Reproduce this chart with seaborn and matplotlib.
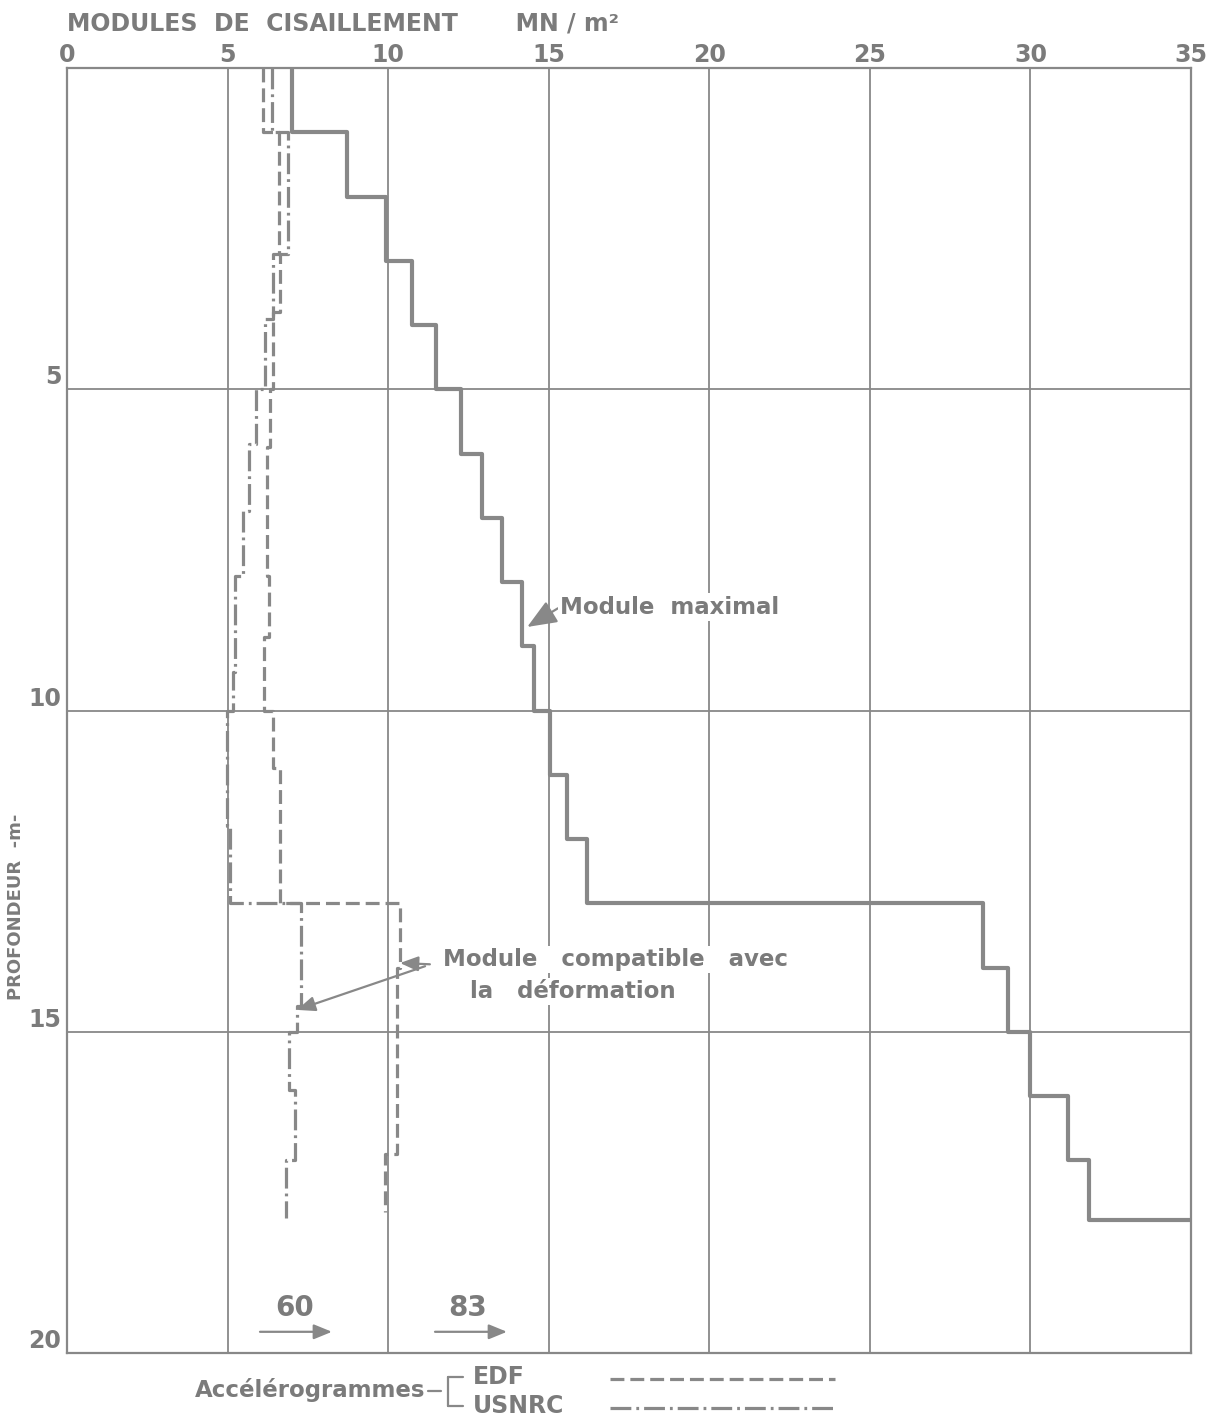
import numpy as np
import pandas as pd
import matplotlib
matplotlib.use("Agg")
import matplotlib.pyplot as plt
import seaborn as sns
from matplotlib.lines import Line2D

sns.set_style("white")
plt.rcParams['font.family'] = ['DejaVu Sans']
plt.rcParams['font.weight'] = 'bold'
plt.rcParams['axes.labelweight'] = 'bold'
plt.rcParams['lines.scale_dashes'] = False

GREY = '#888888'
TXT = '#7b7b7b'
W, H = 1214, 1417

# layer boundaries (depth, m) and shear modulus in each layer (MN/m2)
depth_max = [0, 1, 2, 3, 4, 5, 6, 7, 8, 9, 10, 11, 12, 13, 14, 15, 16, 17, 17.93, 17.93]
g_max = [7.0, 8.72, 9.93, 10.75, 11.5, 12.27, 12.91, 13.56, 14.16, 14.55,
         15.05, 15.56, 16.2, 28.53, 29.3, 30.0, 31.17, 31.83, 35.0]

depth_edf = [0, 1, 2.9, 3.8, 5, 5.9, 7.9, 8.85, 10, 10.9, 13, 14, 16.9, 17.8]
g_edf = [6.11, 6.61, 6.64, 6.43, 6.32, 6.22, 6.29, 6.14, 6.42, 6.64, 10.37, 10.27, 9.9]

depth_usnrc = [0, 1, 2.9, 3.9, 5, 5.85, 6.9, 7.9, 9.4, 10, 11.8, 13, 14.6, 15, 15.9, 17, 17.9]
g_usnrc = [6.37, 6.89, 6.43, 6.16, 5.9, 5.68, 5.47, 5.23, 5.17, 4.98, 5.08,
           7.3, 7.15, 6.9, 7.1, 6.82]

x_ticks = [0, 5, 10, 15, 20, 25, 30, 35]
y_ticks = [5, 10, 15, 20]

DASH_EDF = (0, (10, 4.3))
DASH_USNRC = (0, (15, 3.6, 2, 3.6))


def steps(depths, values):
    # one vertical piece per layer, joined by the horizontal jumps
    d = np.repeat(depths, 2)[1:-1]
    g = np.repeat(values, 2)
    return pd.DataFrame({'module': g, 'depth': d})


def fig_xy(x, y):
    return x / W, 1 - y / H


fig = plt.figure(figsize=(W / 100, H / 100), dpi=100, facecolor='white')
ax = fig.add_axes([67 / W, 1 - 1353 / H, (1191 - 67) / W, (1353 - 68) / H])

sns.lineplot(data=steps(depth_max, g_max), x='module', y='depth', sort=False,
             estimator=None, color=GREY, linewidth=3.0, ax=ax)
sns.lineplot(data=steps(depth_edf, g_edf), x='module', y='depth', sort=False,
             estimator=None, color=GREY, linewidth=2.3, linestyle=DASH_EDF, ax=ax)
sns.lineplot(data=steps(depth_usnrc, g_usnrc), x='module', y='depth', sort=False,
             estimator=None, color=GREY, linewidth=2.3, linestyle=DASH_USNRC, ax=ax)

ax.set_xlim(0, 35)
ax.set_ylim(20, 0)
ax.xaxis.tick_top()
ax.xaxis.set_label_position('top')
ax.set_xticks(x_ticks)
ax.set_yticks(y_ticks)
ax.set_xticklabels([str(t) for t in x_ticks], fontsize=17, fontweight='bold')
ax.set_yticklabels([str(t) for t in y_ticks], fontsize=17, fontweight='bold')
for lab in ax.get_yticklabels():
    lab.set_va('bottom')
ax.tick_params(axis='x', length=0, pad=1, labelcolor=TXT)
ax.tick_params(axis='y', length=0, pad=4, labelcolor=TXT)
ax.grid(True, color=GREY, linewidth=1.3)
ax.set_axisbelow(True)
for s in ax.spines.values():
    s.set_color(GREY)
    s.set_linewidth(1.6)

ax.set_xlabel('MODULES  DE  CISAILLEMENT       MN / m²', loc='left', fontsize=17,
              fontweight='bold', color=TXT, labelpad=9)
ax.set_ylabel('PROFONDEUR  -m-', fontsize=13, fontweight='bold', color=TXT)
ax.yaxis.set_label_coords(-0.037, 0.347)

box = dict(facecolor='white', edgecolor='none', pad=1.5)
arrow = dict(arrowstyle='-|>,head_length=1.1,head_width=0.45', color=GREY, lw=1.6,
             shrinkA=0, shrinkB=0)

ax.annotate('Module  maximal', xy=(14.33, 8.7), xytext=(15.35, 8.39), ha='left', va='center',
            fontsize=16.5, color=TXT, bbox=box, arrowprops=dict(arrow, relpos=(0, 0.5)))

ax.text(11.7, 13.88, 'Module   compatible   avec', ha='left', va='center',
        fontsize=16.5, color=TXT, bbox=box)
ax.text(12.55, 14.38, 'la   déformation', ha='left', va='center',
        fontsize=16.5, color=TXT, bbox=box)
ax.annotate('', xy=(10.37, 13.93), xytext=(11.3, 13.95), arrowprops=arrow)
ax.annotate('', xy=(7.16, 14.66), xytext=(11.15, 13.98), arrowprops=arrow)

ax.text(7.1, 19.3, '60', ha='center', va='center', fontsize=20, color=TXT)
ax.annotate('', xy=(8.25, 19.67), xytext=(6.01, 19.67), arrowprops=arrow)
ax.text(12.46, 19.3, '83', ha='center', va='center', fontsize=20, color=TXT)
ax.annotate('', xy=(13.7, 19.67), xytext=(11.46, 19.67), arrowprops=arrow)

# legend under the chart
fig.text(*fig_xy(425, 1390), 'Accélérogrammes', ha='right', va='center', fontsize=16.5, color=TXT)
for (x0, y0), (x1, y1) in [((428, 1391), (441, 1391)), ((448, 1377), (448, 1406)),
                           ((448, 1377), (463, 1377)), ((448, 1406), (463, 1406))]:
    fig.add_artist(Line2D([x0 / W, x1 / W], [1 - y0 / H, 1 - y1 / H], color=GREY, lw=1.6))
fig.text(*fig_xy(473, 1377), 'EDF', ha='left', va='center', fontsize=17, color=TXT)
fig.text(*fig_xy(473, 1406), 'USNRC', ha='left', va='center', fontsize=17, color=TXT)
fig.add_artist(Line2D([610 / W, 835 / W], [1 - 1379 / H] * 2, color=GREY, lw=2.3, linestyle=DASH_EDF))
fig.add_artist(Line2D([610 / W, 835 / W], [1 - 1408 / H] * 2, color=GREY, lw=2.3, linestyle=DASH_USNRC))

fig.savefig('out.png', dpi=100, facecolor='white')
